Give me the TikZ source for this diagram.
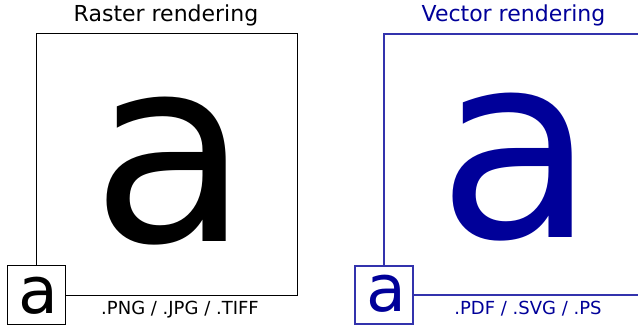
\documentclass[tikz,border=0pt]{standalone}
\usepackage{fontspec}
\setmainfont{DejaVu Sans}
\definecolor{vblue}{HTML}{000099}
\begin{document}
\begin{tikzpicture}[x=1pt,y=-1pt,
  bigbox/.style={draw,line width=1pt,minimum width=261pt,minimum height=261pt,inner sep=0pt,outer sep=0pt},
  smallbox/.style={draw,fill=white,line width=1pt,minimum width=58pt,minimum height=58pt,inner sep=0pt,outer sep=0pt},
  bigglyph/.style={inner sep=0pt,anchor=base west,font=\fontsize{258}{258}\selectfont},
  smallglyph/.style={inner sep=0pt,anchor=base west,font=\fontsize{65}{65}\selectfont},
  title/.style={inner sep=0pt,anchor=base,font=\fontsize{22}{26}\selectfont},
  fmt/.style={inner sep=0pt,anchor=base,font=\fontsize{18}{21}\selectfont}]
\useasboundingbox (0,0) rectangle (638,326);
\clip (0,0) rectangle (638,326);
% raster side
\node[bigbox] (rbox) at (166.5,164.5) {};
\node[bigglyph] (ra) at (91.2,241.5) {a};
\node[smallbox] (rsmall) at (rbox.south west) {};
\node[smallglyph] (rsa) at (17.8,313) {a};
\node[title] (rtitle) at (166,22) {Raster rendering};
\node[fmt] (rfmt) at (180,314) {.PNG / .JPG / .TIFF};
% vector side
\node[bigbox,draw=vblue!80,line width=1.2pt] (vbox) at (514.5,164.5) {};
\node[bigglyph,text=vblue] (va) at (437.2,238) {a};
\node[smallbox,draw=vblue!80,line width=1.2pt] (vsmall) at (vbox.south west) {};
\node[smallglyph,text=vblue] (vsa) at (366.4,312) {a};
\node[title,text=vblue] (vtitle) at (513.5,22) {Vector rendering};
\node[fmt,text=vblue] (vfmt) at (528,314) {.PDF / .SVG / .PS};
\end{tikzpicture}
\end{document}
